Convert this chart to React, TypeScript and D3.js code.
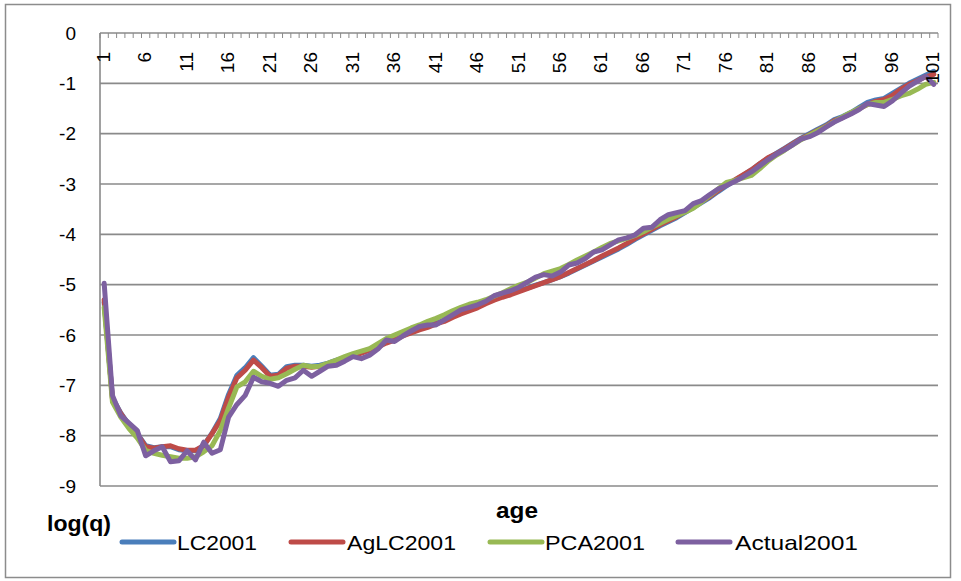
import React from "react";
import * as d3 from "d3";

const ages: number[] = Array.from({ length: 101 }, (_, i) => i + 1);

const lc2001 = [
  -5.35, -7.25, -7.55, -7.78, -7.96, -8.2, -8.24, -8.22, -8.22, -8.28,
  -8.3, -8.3, -8.2, -7.95, -7.66, -7.18, -6.8, -6.65, -6.45, -6.62,
  -6.8, -6.78, -6.63, -6.6, -6.6, -6.62, -6.6, -6.56, -6.5, -6.45,
  -6.4, -6.34, -6.28, -6.22, -6.14, -6.08, -6.0, -5.94, -5.88, -5.83,
  -5.76, -5.71, -5.63, -5.56, -5.5, -5.44, -5.36, -5.29, -5.23, -5.18,
  -5.12, -5.07, -5.01, -4.96, -4.9, -4.84, -4.77, -4.69, -4.61, -4.53,
  -4.45, -4.37, -4.29, -4.2, -4.1, -4.01, -3.92, -3.83, -3.75, -3.67,
  -3.57, -3.47, -3.37, -3.27, -3.15, -3.04, -2.93, -2.83, -2.72, -2.6,
  -2.49, -2.39, -2.29, -2.19, -2.09, -2.0, -1.91, -1.83, -1.72, -1.66,
  -1.58, -1.48, -1.38, -1.33, -1.3, -1.2, -1.1, -1.0, -0.92, -0.84,
  -0.76,
];

const aglc2001 = [
  -5.3, -7.27, -7.56, -7.8, -7.97, -8.22, -8.25, -8.22, -8.2, -8.26,
  -8.29, -8.29, -8.2, -7.96, -7.7, -7.23, -6.85, -6.7, -6.5, -6.65,
  -6.82, -6.8, -6.66, -6.62, -6.62, -6.64, -6.62, -6.58, -6.52, -6.47,
  -6.42, -6.36, -6.3, -6.24, -6.16, -6.1, -6.02, -5.96, -5.9, -5.85,
  -5.78, -5.73, -5.65, -5.58, -5.52, -5.46, -5.38, -5.31, -5.25, -5.2,
  -5.14, -5.08, -5.02, -4.96, -4.9, -4.84, -4.76, -4.68, -4.6, -4.52,
  -4.43, -4.35, -4.27, -4.18, -4.08, -3.99, -3.9, -3.81, -3.73, -3.65,
  -3.55, -3.45, -3.35, -3.25, -3.13, -3.02, -2.92, -2.82, -2.72, -2.6,
  -2.48, -2.4, -2.3, -2.2, -2.1, -2.02, -1.93, -1.85, -1.74, -1.68,
  -1.6, -1.5, -1.42, -1.36, -1.32, -1.24, -1.12, -1.02, -0.95, -0.87,
  -0.82,
];

const pca2001 = [
  -5.45, -7.33, -7.63, -7.86, -8.05, -8.29, -8.35, -8.39, -8.42, -8.45,
  -8.45, -8.42, -8.32, -8.2, -7.9, -7.45, -7.03, -6.93, -6.72, -6.82,
  -6.88, -6.85, -6.77, -6.68, -6.6, -6.63, -6.62, -6.56, -6.5, -6.43,
  -6.37, -6.32, -6.27, -6.17, -6.07, -6.0, -5.93, -5.86, -5.8, -5.73,
  -5.67, -5.6, -5.52, -5.45, -5.39, -5.35, -5.3, -5.23, -5.16, -5.08,
  -5.01, -4.95, -4.87, -4.78, -4.73, -4.68, -4.6, -4.51, -4.43, -4.35,
  -4.26, -4.18, -4.13, -4.08, -4.02, -3.95, -3.86, -3.78, -3.7, -3.63,
  -3.56, -3.48, -3.36, -3.23, -3.1, -2.97, -2.93, -2.88, -2.83, -2.7,
  -2.55, -2.43, -2.33, -2.22, -2.12, -2.03, -1.94, -1.86, -1.76, -1.67,
  -1.58, -1.5, -1.42, -1.38, -1.38, -1.32, -1.25, -1.2, -1.12, -1.02,
  -0.98,
];

const actual2001 = [
  -4.97, -7.2, -7.6, -7.75, -7.9, -8.4, -8.3, -8.22, -8.52, -8.5,
  -8.3, -8.48, -8.13, -8.35, -8.28, -7.63, -7.38, -7.2, -6.84, -6.93,
  -6.96, -7.02, -6.9, -6.85, -6.7, -6.82, -6.72, -6.62, -6.6, -6.52,
  -6.43, -6.47, -6.4, -6.28, -6.1, -6.13, -6.02, -5.92, -5.83, -5.8,
  -5.8, -5.7, -5.6, -5.5, -5.45, -5.4, -5.33, -5.22, -5.17, -5.12,
  -5.05, -4.95, -4.85, -4.8, -4.83, -4.75, -4.61, -4.57, -4.48, -4.35,
  -4.31, -4.21, -4.11, -4.07, -4.01, -3.88, -3.86, -3.71, -3.61, -3.57,
  -3.53, -3.39, -3.33, -3.21, -3.1, -3.03, -2.95, -2.86, -2.76, -2.64,
  -2.52, -2.41, -2.32, -2.22, -2.11, -2.06, -1.98, -1.87, -1.77, -1.69,
  -1.61, -1.52, -1.4, -1.43, -1.46, -1.35, -1.2, -1.06, -0.96, -0.86,
  -1.02,
];

const seriesNames = ["LC2001", "AgLC2001", "PCA2001", "Actual2001"];
const seriesValues = [lc2001, aglc2001, pca2001, actual2001];
const seriesColors = ["#4A7EBB", "#BE4B48", "#98B954", "#7D60A0"];

const yTicks = [0, -1, -2, -3, -4, -5, -6, -7, -8, -9];
const xLabelAges = ages.filter((a) => (a - 1) % 5 === 0);

const W = 961;
const H = 581;
const FONT = "'Liberation Sans', Arial, sans-serif";

export default function App() {
  const x = d3.scaleBand<number>().domain(ages).range([100, 938]).padding(0);
  const bw = x.bandwidth();
  const cx = (a: number) => (x(a) as number) + bw / 2;
  const y = d3.scaleLinear().domain([-9, 0]).range([486, 33]);

  const line = d3
    .line<number>()
    .x((_, i) => cx(ages[i]))
    .y((d) => y(d));

  const grid = "#8a8a8a";

  const legendItems = [
    { lx: 122, tx: 177, w: 80 },
    { lx: 291, tx: 347, w: 109 },
    { lx: 490, tx: 545, w: 100 },
    { lx: 678, tx: 735, w: 123 },
  ];

  return (
    <svg
      width={W}
      height={H}
      style={{ position: "absolute", left: 0, top: 0, background: "#fff" }}
      fontFamily={FONT}
    >
      <rect x={0} y={0} width={W} height={H} fill="#fff" />
      <rect x={5.5} y={4.5} width={945} height={573} fill="none" stroke="#8c8c8c" strokeWidth={1.5} />

      {/* gridlines */}
      {yTicks.map((t) => (
        <line key={t} x1={100} x2={938} y1={y(t)} y2={y(t)} stroke={grid} strokeWidth={1.6} />
      ))}
      {/* vertical axis */}
      <line x1={100} x2={100} y1={y(0)} y2={y(-9)} stroke={grid} strokeWidth={1.6} />

      {/* category tick marks */}
      {d3.range(0, ages.length + 1).map((k) => {
        const tx = 100 + k * bw;
        return <line key={k} x1={tx} x2={tx} y1={y(0)} y2={y(0) + 5} stroke={grid} strokeWidth={1} />;
      })}

      {/* y labels */}
      {yTicks.map((t) => (
        <text key={t} x={76} y={y(t)} textAnchor="end" dominantBaseline="central" fontSize={19} fill="#000">
          {t === 0 ? "0" : `-${Math.abs(t)}`}
        </text>
      ))}

      {/* series */}
      {seriesValues.map((vals, si) => (
        <path
          key={si}
          d={line(vals) || ""}
          fill="none"
          stroke={seriesColors[si]}
          strokeWidth={5}
          strokeLinejoin="round"
          strokeLinecap="round"
        />
      ))}

      {/* x labels rotated */}
      {xLabelAges.map((a) => (
        <text
          key={a}
          transform={`translate(${cx(a) - 1},52) rotate(-90)`}
          textAnchor="end"
          dominantBaseline="central"
          fontSize={19}
          fill="#000"
        >
          {a}
        </text>
      ))}

      {/* axis titles */}
      <text x={517} y={518} textAnchor="middle" fontSize={22} fontWeight="bold" fill="#000" textLength={42} lengthAdjust="spacingAndGlyphs">
        age
      </text>
      <text x={47} y={531} fontSize={22} fontWeight="bold" fill="#000" textLength={64} lengthAdjust="spacingAndGlyphs">
        log(q)
      </text>

      {/* legend */}
      {legendItems.map((it, i) => (
        <g key={i}>
          <line x1={it.lx} x2={it.lx + 52} y1={542} y2={542} stroke={seriesColors[i]} strokeWidth={5} strokeLinecap="round" />
          <text
            x={it.tx}
            y={542}
            dominantBaseline="central"
            fontSize={21}
            fill="#000"
            textLength={it.w}
            lengthAdjust="spacingAndGlyphs"
          >
            {seriesNames[i]}
          </text>
        </g>
      ))}
    </svg>
  );
}
